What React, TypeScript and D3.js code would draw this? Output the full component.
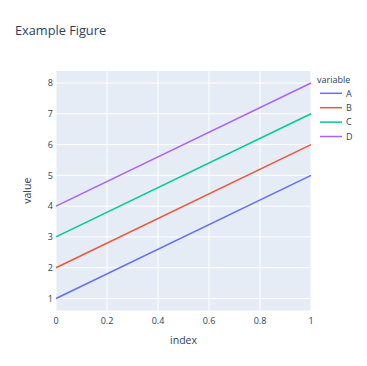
import React from "react";
import * as d3 from "d3";

const indexValues = [0, 1];
const seriesNames = ["A", "B", "C", "D"];
const seriesA = [1, 5];
const seriesB = [2, 6];
const seriesC = [3, 7];
const seriesD = [4, 8];
const colors = ["#636efa", "#EF553B", "#00cc96", "#ab63fa"];
const xTicks = [0, 0.2, 0.4, 0.6, 0.8, 1];
const yTicks = [1, 2, 3, 4, 5, 6, 7, 8];

const W = 367, H = 366;
const plot = { left: 56, right: 311, top: 71, bottom: 310.5 };
const FONT = '"Open Sans", verdana, arial, sans-serif';
const TEXT = "#2a3f5f";

export default function App() {
  const x = d3.scaleLinear().domain([0, 1]).range([plot.left, plot.right]);
  const y = d3.scaleLinear().domain([0.61, 8.39]).range([plot.bottom, plot.top]);
  const series = [seriesA, seriesB, seriesC, seriesD];
  const line = d3.line<[number, number]>().x(d => x(d[0])).y(d => y(d[1]));
  const fmt = (v: number) => (v === 0 || v === 1 ? String(v) : v.toFixed(1));
  return (
    <div style={{ position: "absolute", left: 0, top: 0 }}>
      <svg width={W} height={H} style={{ display: "block", background: "white" }} fontFamily={FONT}>
        <text x={15} y={34.5} fontSize={12.75} fill={TEXT}>Example Figure</text>
        <rect x={plot.left} y={plot.top} width={plot.right - plot.left} height={plot.bottom - plot.top} fill="#E5ECF6" />
        {xTicks.map(t => (
          <line key={"gx" + t} x1={x(t)} x2={x(t)} y1={plot.top} y2={plot.bottom} stroke="white" strokeWidth={1} />
        ))}
        {yTicks.map(t => (
          <line key={"gy" + t} x1={plot.left} x2={plot.right} y1={y(t)} y2={y(t)} stroke="white" strokeWidth={1} />
        ))}
        {series.map((s, i) => (
          <path key={"s" + i} d={line(indexValues.map((v, j) => [v, s[j]] as [number, number])) || ""}
            fill="none" stroke={colors[i]} strokeWidth={1.5} />
        ))}
        {xTicks.map(t => (
          <text key={"tx" + t} x={x(t)} y={323.5} fontSize={9} fill={TEXT} textAnchor="middle">{fmt(t)}</text>
        ))}
        {yTicks.map(t => (
          <text key={"ty" + t} x={plot.left - 3} y={y(t) + 3.2} fontSize={9} fill={TEXT} textAnchor="end">{t}</text>
        ))}
        <text x={(plot.left + plot.right) / 2} y={343.5} fontSize={10.5} fill={TEXT} textAnchor="middle">index</text>
        <text transform={`translate(30.5,${(plot.top + plot.bottom) / 2}) rotate(-90)`} fontSize={10.5} fill={TEXT} textAnchor="middle">value</text>
        <text x={317} y={83} fontSize={9} fill={TEXT}>variable</text>
        {seriesNames.map((n, i) => {
          const yy = 93.3 + i * 14.4;
          return (
            <g key={"lg" + n}>
              <line x1={320} x2={342} y1={yy} y2={yy} stroke={colors[i]} strokeWidth={1.5} />
              <text x={346} y={yy + 3.2} fontSize={9} fill={TEXT}>{n}</text>
            </g>
          );
        })}
      </svg>
    </div>
  );
}
